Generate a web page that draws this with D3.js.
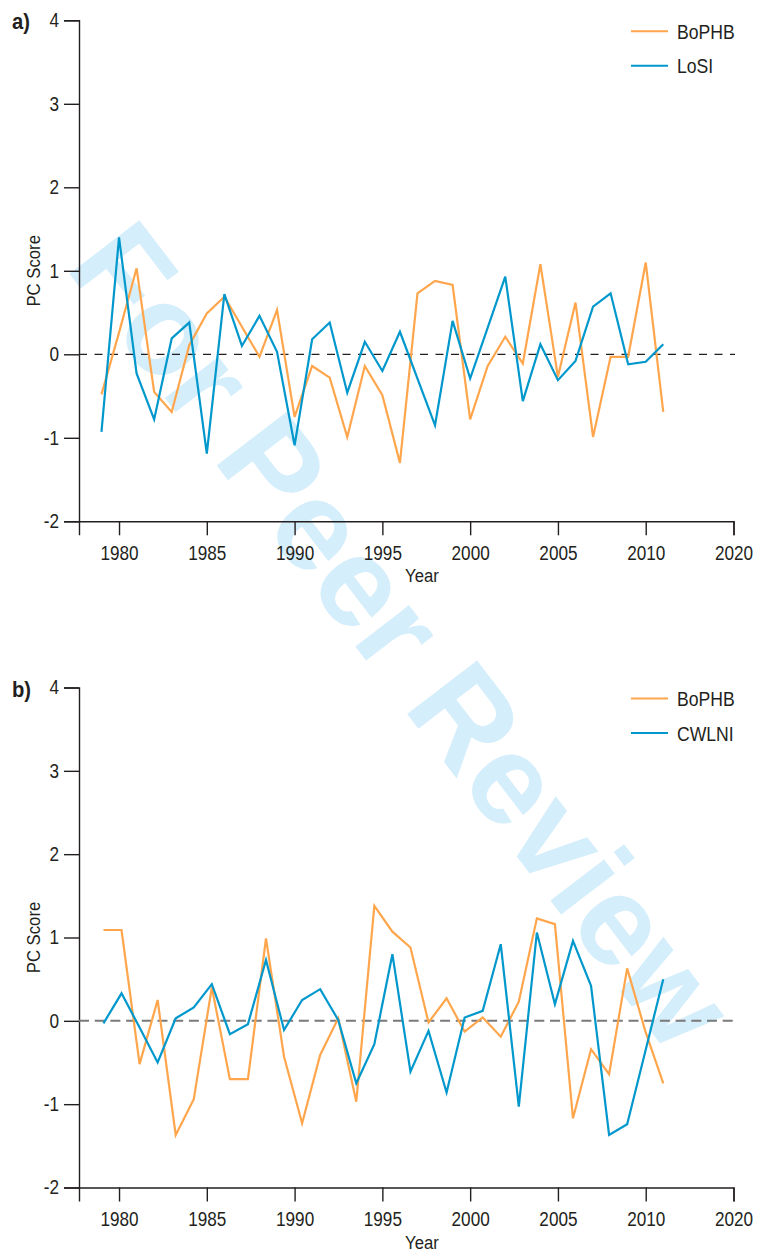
<!DOCTYPE html>
<html>
<head>
<meta charset="utf-8">
<script src="https://cdn.jsdelivr.net/npm/d3@7"></script>
<style>
  body { margin: 0; background: #fff; }
  svg text { font-family: 'Liberation Sans Narrow', 'Arial Narrow', 'Liberation Sans', sans-serif; fill: #231f20; }
  .axis path, .axis line { stroke: #231f20; stroke-width: 1.4; }
</style>
</head>
<body>
<div id="chart"></div>
<script>
// Panel a: BoPHB vs LoSI
const yearsA = [1979, 1980, 1981, 1982, 1983, 1984, 1985, 1986, 1987, 1988, 1989,
    1990, 1991, 1992, 1993, 1994, 1995, 1996, 1997, 1998, 1999, 2000, 2001,
    2002, 2003, 2004, 2005, 2006, 2007, 2008, 2009, 2010, 2011];
const bophbA = [-0.48, 0.26, 1.03, -0.45, -0.69, 0.11, 0.49, 0.69, 0.33, -0.03, 0.53,
    -0.75, -0.14, -0.28, -0.99, -0.14, -0.49, -1.30, 0.73, 0.88, 0.83, -0.78, -0.14,
    0.21, -0.11, 1.08, -0.27, 0.62, -0.99, -0.03, -0.03, 1.10, -0.69];
const losi = [-0.93, 1.40, -0.23, -0.78, 0.19, 0.38, -1.19, 0.72, 0.10, 0.46, 0.03,
    -1.09, 0.18, 0.38, -0.46, 0.15, -0.20, 0.27, -0.29, -0.85, 0.40, -0.29, 0.32,
    0.93, -0.56, 0.12, -0.31, -0.08, 0.57, 0.73, -0.12, -0.09, 0.12];

// Panel b: BoPHB vs CWLNI (one point fewer, spread over the same width)
const yearsB = [1979, 1980, 1981, 1982, 1983, 1984, 1985, 1986, 1987, 1988, 1989,
    1990, 1991, 1992, 1993, 1994, 1995, 1996, 1997, 1998, 1999, 2000, 2001,
    2002, 2003, 2004, 2005, 2006, 2007, 2008, 2009, 2010];
const bophbB = [1.09, 1.09, -0.52, 0.25, -1.37, -0.94, 0.40, -0.70, -0.70, 0.99, -0.43,
    -1.23, -0.41, 0.03, -0.97, 1.38, 1.07, 0.88, -0.02, 0.27, -0.13, 0.04, -0.19,
    0.23, 1.23, 1.16, -1.17, -0.34, -0.64, 0.63, -0.12, -0.75];
const cwlni = [-0.03, 0.33, -0.08, -0.50, 0.03, 0.16, 0.44, -0.16, -0.04, 0.73, -0.11,
    0.25, 0.38, 0.01, -0.75, -0.28, 0.80, -0.61, -0.12, -0.86, 0.04, 0.12, 0.92,
    -1.03, 1.06, 0.20, 0.96, 0.42, -1.37, -1.24, -0.37, 0.50];

// Axis ticks (last tick is labelled 2020 in the original)
const xTickValues = [1980, 1985, 1990, 1995, 2000, 2005, 2010, 2015];
const xTickLabels = ['1980', '1985', '1990', '1995', '2000', '2005', '2010', '2020'];
const yTickValues = [-2, -1, 0, 1, 2, 3, 4];

const orange = '#ffa64d';
const blue = '#0098cc';
const narrow = 0.88; // horizontal squeeze to mimic the condensed face

const width = 757;
const height = 1256;

const svg = d3.select('#chart')
    .append('svg')
    .attr('width', width)
    .attr('height', height);

// Watermark behind everything
svg.append('text')
    .attr('transform', 'translate(404,634) rotate(52.5)')
    .attr('text-anchor', 'middle')
    .attr('dy', '0.36em')
    .style('font-family', "'Liberation Sans', Arial, sans-serif")
    .style('font-weight', 'bold')
    .style('font-size', '128px')
    .style('fill', '#d5eefb')
    .text('For Peer Review');

const xScale = d3.scaleLinear()
    .domain([1977.72, 2015])
    .range([79, 733.5]);

// panel b points run from 1979 to the 2011 position of panel a
const xScaleB = d3.scaleLinear()
    .domain([yearsB[0], yearsB[yearsB.length - 1]])
    .range([xScale(1979) + 2, xScale(2011)]);

function drawPanel(opts) {
    const yScale = d3.scaleLinear()
        .domain([-2, 4])
        .range([opts.bottom, opts.top]);

    const g = svg.append('g');

    // Axes
    const xAxisG = g.append('g')
        .attr('class', 'axis')
        .attr('transform', `translate(0,${opts.bottom})`)
        .call(d3.axisBottom(xScale)
            .tickValues(xTickValues)
            .tickFormat((d, i) => xTickLabels[i])
            .tickSizeOuter(0)
            .tickSize(14)
            .tickPadding(11));

    xAxisG.selectAll('.tick text')
        .style('font-size', '19.5px')
        .attr('transform', `scale(${narrow},1)`);

    const yAxisG = g.append('g')
        .attr('class', 'axis')
        .attr('transform', `translate(${xScale.range()[0]},0)`)
        .call(d3.axisLeft(yScale)
            .tickValues(yTickValues)
            .tickFormat(d => String(d))
            .tickSizeOuter(0)
            .tickSize(15)
            .tickPadding(5));

    yAxisG.selectAll('.tick text')
        .style('font-size', '19.5px')
        .attr('x', 0)
        .attr('transform', `translate(-20,0) scale(${narrow},1)`);

    // Zero reference line
    g.append('line')
        .attr('x1', xScale.range()[0])
        .attr('x2', 735)
        .attr('y1', yScale(0))
        .attr('y2', yScale(0))
        .style('stroke', opts.zeroColor)
        .style('stroke-width', opts.zeroWidth)
        .style('stroke-dasharray', opts.zeroDash);

    // Series lines
    opts.series.forEach(s => {
        const line = d3.line()
            .x((d, i) => opts.xs(opts.years[i]))
            .y(d => yScale(d));

        g.append('path')
            .datum(s.values)
            .attr('d', line)
            .style('fill', 'none')
            .style('stroke', s.color)
            .style('stroke-width', 2.2)
            .style('stroke-linejoin', 'miter');
    });

    // Legend
    opts.series.forEach((s, i) => {
        const ly = opts.top + 11 + i * 34.5;
        g.append('line')
            .attr('x1', 631)
            .attr('x2', 668)
            .attr('y1', ly)
            .attr('y2', ly)
            .style('stroke', s.color)
            .style('stroke-width', 2);
        g.append('text')
            .attr('transform', `translate(677,${ly + 7.5}) scale(${narrow},1)`)
            .style('font-size', '20px')
            .text(s.name);
    });

    // Axis titles
    g.append('text')
        .attr('transform', `translate(422,${opts.bottom + 61}) scale(${narrow},1)`)
        .attr('text-anchor', 'middle')
        .style('font-size', '19px')
        .text('Year');

    g.append('text')
        .attr('transform', `translate(40,${(opts.top + opts.bottom) / 2}) rotate(-90) scale(${narrow},1)`)
        .attr('text-anchor', 'middle')
        .style('font-size', '19px')
        .text('PC Score');

    // Panel letter
    g.append('text')
        .attr('transform', `translate(12,${opts.top + 9}) scale(0.92,1)`)
        .style('font-family', "'Liberation Sans', Arial, sans-serif")
        .style('font-weight', 'bold')
        .style('font-size', '22px')
        .text(opts.label);
}

drawPanel({
    top: 20.3,
    bottom: 521.3,
    label: 'a)',
    years: yearsA,
    xs: xScale,
    zeroColor: '#231f20',
    zeroWidth: 1.2,
    zeroDash: '8,7.5',
    series: [
        { name: 'BoPHB', values: bophbA, color: orange },
        { name: 'LoSI', values: losi, color: blue }
    ]
});

drawPanel({
    top: 687.5,
    bottom: 1187.5,
    label: 'b)',
    years: yearsB,
    xs: xScaleB,
    zeroColor: '#7a7a7a',
    zeroWidth: 2,
    zeroDash: '10,5.7',
    series: [
        { name: 'BoPHB', values: bophbB, color: orange },
        { name: 'CWLNI', values: cwlni, color: blue }
    ]
});
</script>
</body>
</html>
